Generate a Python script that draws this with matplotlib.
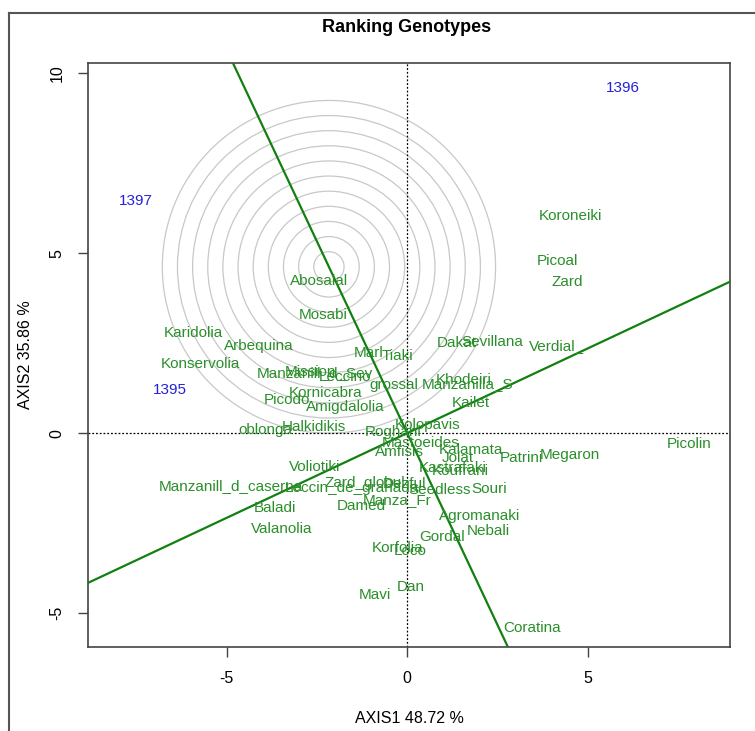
import numpy as np
import matplotlib.pyplot as plt
from matplotlib.lines import Line2D
from matplotlib.patches import Circle

plt.rcParams['font.family'] = ['Liberation Sans', 'DejaVu Sans']
plt.rcParams['axes.unicode_minus'] = False

# environments (years)
env_names = ['1395', '1396', '1397']
env_x = [-6.58, 5.97, -7.53]
env_y = [1.19, 9.58, 6.44]

# genotypes
gen_names = ['Koroneiki', 'Picoal', 'Zard', 'Abosalal', 'Mosabi', 'Karidolia',
             'Arbequina', 'Konservolia', 'Marl', 'Tiaki', 'Dakat', 'Sevillana',
             'Verdial_', 'Manzanill_d_Sev', 'Mission', 'Leccino', 'grossal',
             'Manzanilla_S', 'Khodeiri', 'Kailet', 'Picodo', 'Kornicabra',
             'Amigdalolia', 'oblonga', 'Halkidikis', 'Roghani', 'Kolopavis',
             'Mastoeides', 'Amfisis', 'Kalamata', 'Jolat', 'Patrini', 'Megaron',
             'Picolin', 'Kastrafaki', 'Koufrani', 'Souri', 'Zard_globul',
             'Leccin_de_granada', 'Dezful', 'Seedless', 'Manza_Fr', 'Damed',
             'Manzanill_d_caserna', 'Voliotiki', 'Baladi', 'Valanolia',
             'Agromanaki', 'Nebali', 'Gordal', 'Korfolia', 'Loco', 'Dan', 'Mavi',
             'Coratina']
gen_x = [4.53, 4.17, 4.44, -2.44, -2.33, -5.94,
         -4.11, -5.72, -1.06, -0.28, 1.36, 2.36,
         4.14, -2.56, -2.67, -1.72, -0.36,
         1.67, 1.56, 1.75, -3.33, -2.25,
         -1.72, -3.92, -2.58, -0.39, 0.56,
         0.36, -0.22, 1.78, 1.39, 3.17, 4.50,
         7.83, 1.25, 1.47, 2.28, -1.17,
         -1.53, -0.08, 0.89, -0.28, -1.28,
         -4.89, -2.56, -3.67, -3.47,
         2.00, 2.25, 0.97, -0.28, 0.08, 0.11, -0.89,
         3.47]
gen_y = [6.03, 4.78, 4.19, 4.22, 3.28, 2.78,
         2.42, 1.92, 2.22, 2.14, 2.50, 2.53,
         2.42, 1.67, 1.69, 1.56, 1.33,
         1.36, 1.47, 0.83, 0.92, 1.11,
         0.72, 0.08, 0.17, 0.03, 0.22,
         -0.28, -0.53, -0.47, -0.69, -0.69, -0.61,
         -0.31, -0.97, -1.06, -1.56, -1.39,
         -1.53, -1.42, -1.58, -1.86, -2.03,
         -1.47, -0.94, -2.08, -2.67,
         -2.31, -2.72, -2.89, -3.19, -3.28, -4.28, -4.50,
         -5.42]

# average environment axis direction and ideal genotype (circle centre)
avg_env = (6.0, 2.82)
ideal = (-2.17, 4.62)
ring_step = 0.42
n_rings = 11

fig = plt.figure(figsize=(7.55, 7.31), dpi=100)
ax = fig.add_axes([88 / 755, 1 - 647 / 731, 642 / 755, 584 / 731])
ax.set_xlim(-8.85, 8.95)
ax.set_ylim(-5.94, 10.28)

# concentric circles
for k in range(1, n_rings + 1):
    ax.add_patch(Circle(ideal, k * ring_step, fill=False, ec='#c8c8c8', lw=0.9, zorder=1))

# dotted axes through origin
ax.axhline(0, color='black', ls=(0, (1.5, 1.5)), lw=0.9, zorder=2)
ax.axvline(0, color='black', ls=(0, (1.5, 1.5)), lw=0.9, zorder=2)

# AEA abscissa and ordinate
slope = avg_env[1] / avg_env[0]
ax.axline((0, 0), slope=slope, color='#118011', lw=1.6, zorder=3)
ax.axline((0, 0), slope=-1 / slope, color='#118011', lw=1.6, zorder=3)

for n, x, y in zip(gen_names, gen_x, gen_y):
    ax.text(x, y, n, color='#2a8f2a', fontsize=11, ha='center', va='center', zorder=4)
for n, x, y in zip(env_names, env_x, env_y):
    ax.text(x, y, n, color='#2222dd', fontsize=11, ha='center', va='center', zorder=4)

ax.set_xticks([-5, 0, 5])
ax.set_yticks([-5, 0, 5, 10])
ax.tick_params(labelsize=11.5, length=7, width=1, pad=10, color='#444444')
for lab in ax.get_yticklabels():
    lab.set_rotation(90)
    lab.set_va('center')
for sp in ax.spines.values():
    sp.set_color('#444444')
    sp.set_linewidth(1.2)

ax.set_xlabel('AXIS1 48.72 %', fontsize=11.5, labelpad=18)
ax.set_ylabel('AXIS2 35.86 %', fontsize=11.5, labelpad=12)
fig.text(407 / 755, 1 - 27 / 731, 'Ranking Genotypes', fontsize=13, fontweight='bold',
         ha='center', va='center')

# window frame
fig.add_artist(Line2D([9 / 755, 9 / 755], [0, 1 - 13 / 731], color='#555555', lw=1.5))
fig.add_artist(Line2D([9 / 755, 1], [1 - 13 / 731, 1 - 13 / 731], color='#555555', lw=1.5))

fig.savefig('out.png', dpi=100)
